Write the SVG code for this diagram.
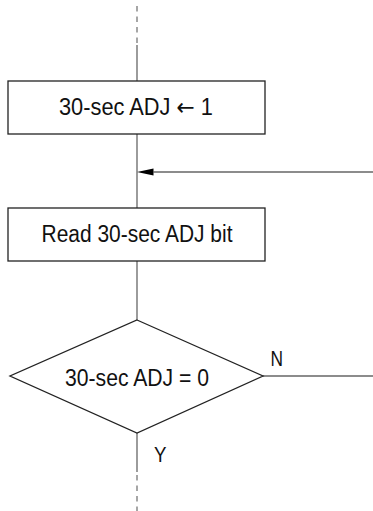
<svg xmlns="http://www.w3.org/2000/svg" width="373" height="511" viewBox="0 0 373 511">
<style>
.box{fill:#fff;stroke:#222;stroke-width:1.3}
.ln{fill:none;stroke:#666;stroke-width:1.3}
.dash{fill:none;stroke:#777;stroke-width:1.3;stroke-dasharray:5.5 5}
.t{font-family:"Liberation Sans",Arial,sans-serif;font-size:23.5px;fill:#111;text-anchor:middle}
.ar{font-family:"DejaVu Sans",sans-serif}
.lbl{font-family:"Liberation Sans",Arial,sans-serif;font-size:22px;fill:#111}
</style>
<g id="connectors">
<path class="dash" d="M137,6 V45"/>
<path class="ln" d="M137,45 V81"/>
<path class="ln" d="M137,134 V208"/>
<path class="ln" d="M373,172 H153.5"/>
<path d="M137,172 L153.5,168.5 L153.5,175.5 Z" fill="#000"/>
<path class="ln" d="M137,261 V320"/>
<path class="ln" d="M263,376 H373"/>
<path class="ln" d="M137,433 V472"/>
<path class="dash" d="M137,475 V511"/>
</g>
<g id="n1">
<rect class="box" x="8" y="81" width="257" height="53"/>
<text class="t" x="136" y="115" textLength="154" lengthAdjust="spacingAndGlyphs">30-sec ADJ <tspan class="ar">←</tspan> 1</text>
</g>
<g id="n2">
<rect class="box" x="8" y="208" width="257" height="53"/>
<text class="t" x="137" y="241.5" textLength="191" lengthAdjust="spacingAndGlyphs">Read 30-sec ADJ bit</text>
</g>
<g id="n3">
<polygon class="box" points="137,320 263,376 137,433 10,376"/>
<text class="t" x="137" y="386" textLength="144" lengthAdjust="spacingAndGlyphs">30-sec ADJ = 0</text>
</g>
<g id="labels">
<text class="lbl" x="270.5" y="365.7" textLength="12.5" lengthAdjust="spacingAndGlyphs">N</text>
<text class="lbl" x="154" y="461.7" textLength="12.5" lengthAdjust="spacingAndGlyphs">Y</text>
</g>
</svg>
